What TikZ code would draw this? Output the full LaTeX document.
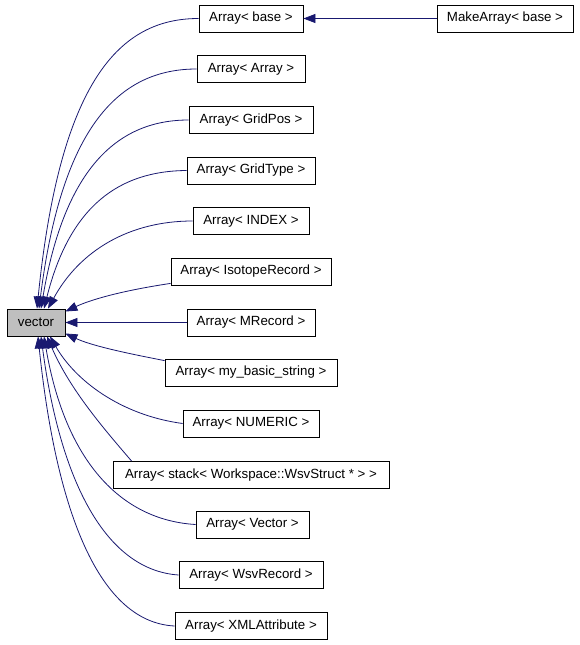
\documentclass[tikz,border=0pt]{standalone}
\usepackage{fontspec}
\setmainfont{Liberation Sans}
\usetikzlibrary{arrows.meta}
\definecolor{navyedge}{RGB}{25,25,112}
\definecolor{vecgray}{RGB}{191,191,191}
\begin{document}
\begin{tikzpicture}[x=1pt,y=1pt,
  box/.style={draw=black, line width=0.8pt, fill=white, minimum height=27pt, inner sep=0pt,
    font=\fontsize{13.3}{16}\selectfont},
  edge/.style={draw=navyedge, line width=0.8pt, -{Triangle[length=12pt,width=9pt]}}]
\useasboundingbox (0,0) rectangle (579,-645);
\node[box, fill=vecgray, minimum width=58pt] (vec) at (36,-322.5) {vector};
\node[box, minimum width=104pt] (base) at (251,-18.5) {Array< base >};
\node[box, minimum width=136pt] (mk) at (505,-18.5) {MakeArray< base >};
\node[box, minimum width=108pt] (arr) at (251,-69) {Array< Array >};
\node[box, minimum width=124pt] (gpos) at (251,-120) {Array< GridPos >};
\node[box, minimum width=128pt] (gtype) at (251,-170.5) {Array< GridType >};
\node[box, minimum width=116pt] (idx) at (251,-221) {Array< INDEX >};
\node[box, minimum width=160pt] (iso) at (251,-271.5) {Array< IsotopeRecord >};
\node[box, minimum width=128pt] (mrec) at (251,-322.5) {Array< MRecord >};
\node[box, minimum width=172pt] (mbs) at (251,-372.5) {Array< my\_basic\_string >};
\node[box, minimum width=136pt] (num) at (251,-423.5) {Array< NUMERIC >};
\node[box, minimum width=276pt] (stk) at (251,-475) {Array< stack< Workspace::WsvStruct * > >};
\node[box, minimum width=113pt] (vc) at (252.5,-524.5) {Array< Vector >};
\node[box, minimum width=144pt] (wsv) at (251,-575) {Array< WsvRecord >};
\node[box, minimum width=152pt] (xml) at (251,-626) {Array< XMLAttribute >};
% edges
\draw[edge] (mk.west) -- (base.east);
\draw[edge] (base.west) .. controls (120,-18.5) and (60,-80) .. ([xshift=1pt]vec.north);
\draw[edge] (arr.west) .. controls (120,-69) and (62,-125) .. ([xshift=3pt]vec.north);
\draw[edge] (gpos.west) .. controls (120,-120) and (65,-165) .. ([xshift=5pt]vec.north);
\draw[edge] (gtype.west) .. controls (120,-171) and (70,-205) .. ([xshift=8pt]vec.north);
\draw[edge] (idx.west) .. controls (130,-221) and (80,-250) .. ([xshift=12pt]vec.north);
\draw[edge] ([yshift=2pt]iso.south west) .. controls (120,-291) and (90,-300) .. ([yshift=11pt]vec.east);
\draw[edge] (mrec.west) -- (vec.east);
\draw[edge] ([yshift=-2pt]mbs.north west) .. controls (120,-352) and (90,-345) .. ([yshift=-11pt]vec.east);
\draw[edge] (num.west) .. controls (120,-415) and (75,-380) .. ([xshift=14pt]vec.south);
\draw[edge] ([xshift=19pt]stk.north west) .. controls (105,-430) and (70,-390) .. ([xshift=11pt]vec.south);
\draw[edge] (vc.west) .. controls (120,-520) and (65,-460) .. ([xshift=8pt]vec.south);
\draw[edge] (wsv.west) .. controls (105,-570) and (60,-480) .. ([xshift=5pt]vec.south);
\draw[edge] (xml.west) .. controls (95,-622) and (55,-500) .. ([xshift=2pt]vec.south);
\end{tikzpicture}
\end{document}
